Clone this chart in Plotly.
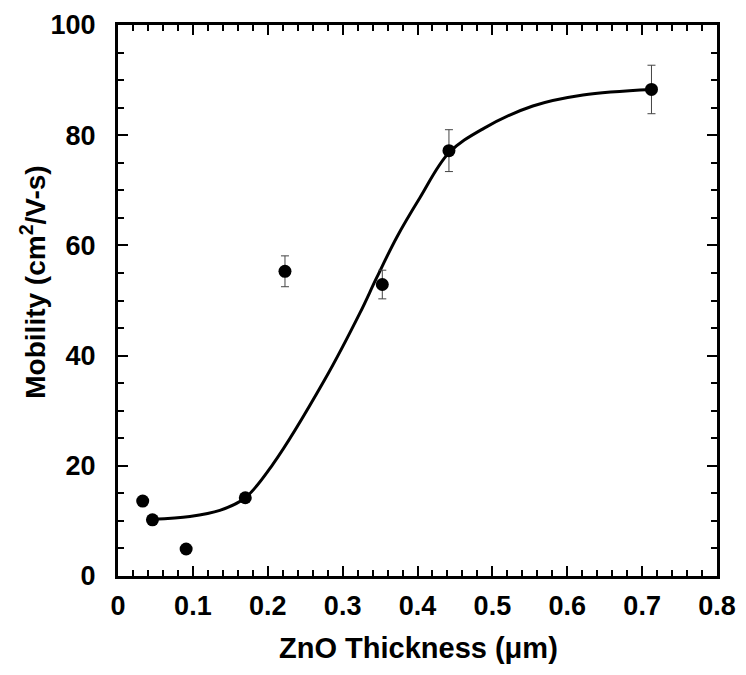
import plotly.graph_objects as go

# Measured data points
thickness = [0.033, 0.046, 0.091, 0.170, 0.223, 0.353, 0.442, 0.7125]
mobility = [13.6, 10.2, 4.9, 14.2, 55.3, 52.9, 77.2, 88.3]
mobility_err = [0, 0, 0, 0, 2.8, 2.6, 3.8, 4.4]

# Fitted curve
fit_x = [0.046, 0.096, 0.136, 0.170, 0.207, 0.276, 0.323, 0.345,
         0.372, 0.403, 0.442, 0.488, 0.554, 0.621, 0.7125]
fit_y = [10.3, 10.8, 11.9, 14.2, 20.3, 35.6, 47.7, 54.0,
         61.4, 68.6, 76.8, 81.2, 85.3, 87.3, 88.3]

x_ticks = [0, 0.1, 0.2, 0.3, 0.4, 0.5, 0.6, 0.7, 0.8]
x_tick_labels = ["0", "0.1", "0.2", "0.3", "0.4", "0.5", "0.6", "0.7", "0.8"]
y_ticks = [0, 20, 40, 60, 80, 100]
y_tick_labels = ["0", "20", "40", "60", "80", "100"]

x_title = "ZnO Thickness (μm)"
y_title = "Mobility (cm<sup>2</sup>/V-s)"

font_family = "Liberation Sans, Arial, sans-serif"

fig = go.Figure()
fig.add_trace(go.Scatter(
    x=fit_x, y=fit_y, mode="lines",
    line=dict(color="black", width=3, shape="spline", smoothing=1.0),
    hoverinfo="skip", showlegend=False,
))
fig.add_trace(go.Scatter(
    x=thickness, y=mobility, mode="markers",
    marker=dict(color="black", size=13),
    error_y=dict(type="data", array=mobility_err, visible=True,
                 color="#444444", thickness=1, width=4),
    showlegend=False,
))

axis_common = dict(
    showline=True, linecolor="black", linewidth=3, mirror="allticks",
    ticks="inside", ticklen=10, tickwidth=2, tickcolor="black",
    showgrid=False, zeroline=False, automargin=False,
    tickfont=dict(family=font_family, size=27, color="black", weight="bold"),
)

fig.update_xaxes(
    range=[0, 0.8], tickvals=x_ticks, ticktext=x_tick_labels,
    minor=dict(dtick=0.02, ticks="inside", ticklen=6, tickwidth=2, tickcolor="black", showgrid=False),
    ticklabelstandoff=4,
    **axis_common,
)
fig.update_yaxes(
    range=[0, 100], tickvals=y_ticks, ticktext=y_tick_labels,
    minor=dict(dtick=5, ticks="inside", ticklen=6, tickwidth=2, tickcolor="black", showgrid=False),
    ticklabelstandoff=14,
    **axis_common,
)

fig.add_annotation(
    text="<b>" + x_title + "</b>", xref="paper", yref="paper",
    x=0.5025, y=-0.1307, xanchor="center", yanchor="middle", showarrow=False,
    font=dict(family=font_family, size=29, color="black"),
)
fig.add_annotation(
    text="<b>" + y_title + "</b>", xref="paper", yref="paper", textangle=-90,
    x=-0.142, y=0.534, xanchor="center", yanchor="middle", showarrow=False,
    font=dict(family=font_family, size=28, color="black"),
)

# The page body adds an 8px offset, so the figure is sized to compensate.
fig.update_layout(
    width=738, height=667,
    margin=dict(l=110, r=29, t=17, b=99),
    plot_bgcolor="white", paper_bgcolor="white",
    font=dict(family=font_family, color="black"),
)

fig.write_html("out.html")
